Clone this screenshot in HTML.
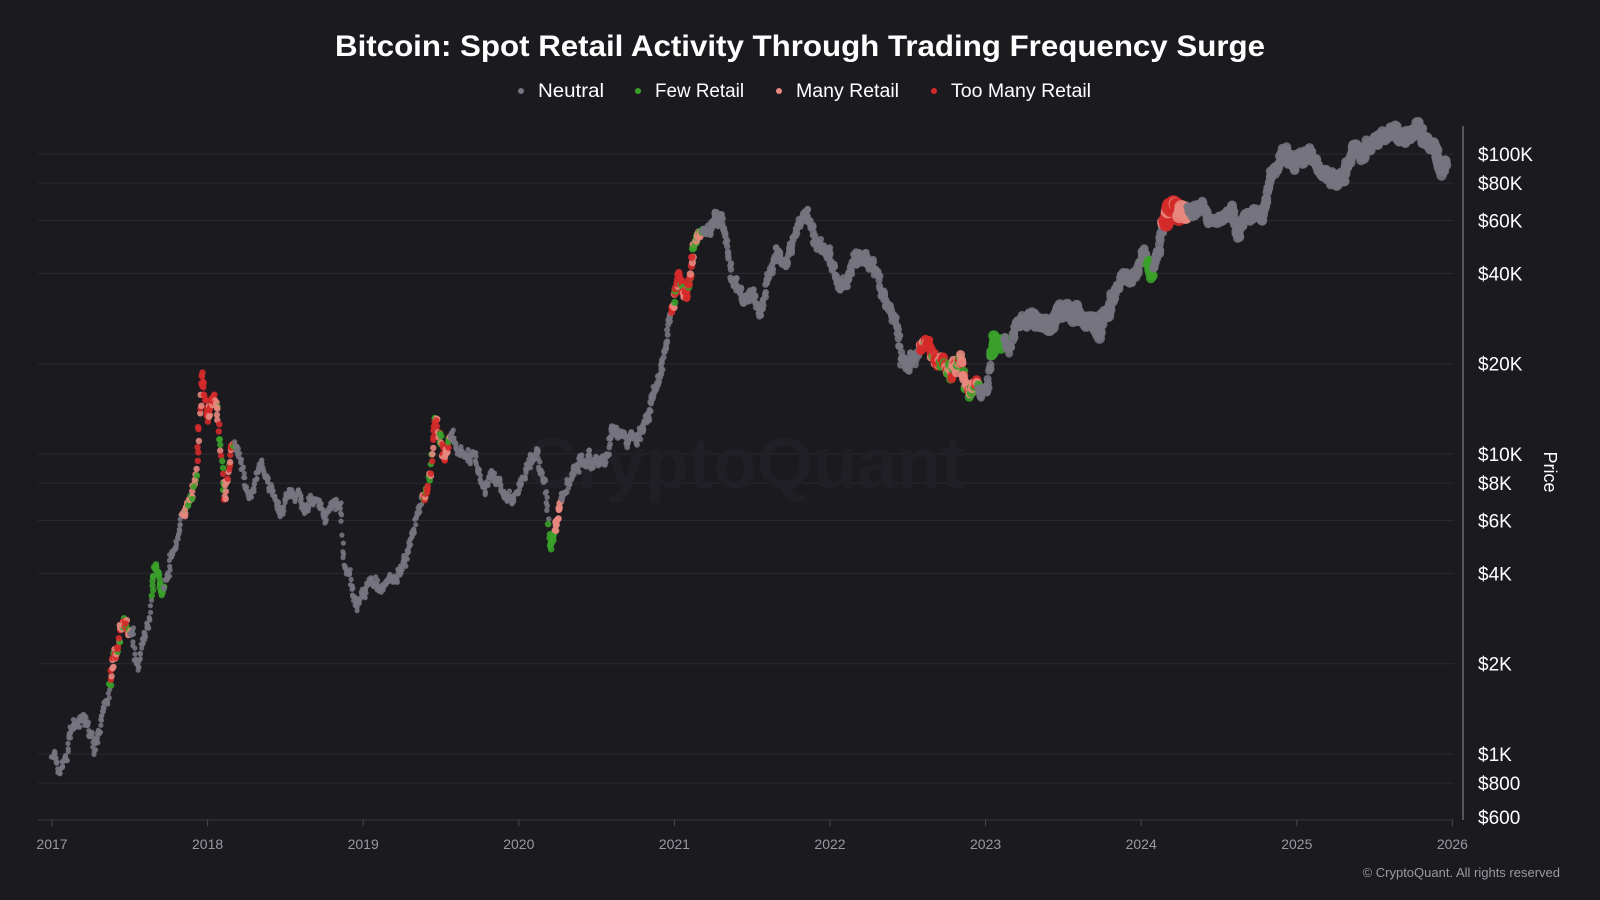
<!DOCTYPE html>
<html><head><meta charset="utf-8"><style>
html,body{margin:0;padding:0;background:#1b1a1f;}
svg{display:block;}
text{font-family:"Liberation Sans",sans-serif;}
</style></head><body>
<svg id="s" width="1600" height="900" viewBox="0 0 1600 900">
<rect width="1600" height="900" fill="#1b1a1f"/>
<text x="800" y="56" text-anchor="middle" fill="#ffffff" font-size="30" font-weight="bold" textLength="930" lengthAdjust="spacingAndGlyphs">Bitcoin: Spot Retail Activity Through Trading Frequency Surge</text>
<g font-size="19" fill="#ffffff">
<circle cx="521" cy="91" r="3" fill="#76747f"/><text x="538" y="97" textLength="66" lengthAdjust="spacingAndGlyphs">Neutral</text>
<circle cx="638" cy="91" r="3" fill="#3aa02a"/><text x="655" y="97" textLength="89" lengthAdjust="spacingAndGlyphs">Few Retail</text>
<circle cx="779" cy="91" r="3" fill="#e8877e"/><text x="796" y="97" textLength="103" lengthAdjust="spacingAndGlyphs">Many Retail</text>
<circle cx="934" cy="91" r="3" fill="#d42a2a"/><text x="951" y="97" textLength="140" lengthAdjust="spacingAndGlyphs">Too Many Retail</text>
</g>
<g id="grid"></g>
<text x="745" y="488" text-anchor="middle" fill="#201f25" font-size="72" font-weight="bold">CryptoQuant</text>
<g id="dots"></g>
<line x1="1463" y1="126" x2="1463" y2="820" stroke="#6a6970" stroke-width="1.5"/>
<line x1="38" y1="820" x2="1454" y2="820" stroke="#3a3940" stroke-width="1"/>
<g id="labels" font-size="19" fill="#ffffff"></g>
<g id="xl" font-size="14" fill="#9a99a2"></g>
<text transform="translate(1544,472) rotate(90)" text-anchor="middle" fill="#ffffff" font-size="18">Price</text>
<text x="1560" y="877" text-anchor="end" fill="#9a99a2" font-size="13">© CryptoQuant. All rights reserved</text>
</svg>
<script>
const NS="http://www.w3.org/2000/svg";
function el(t,a,p){const e=document.createElementNS(NS,t);for(const k in a)e.setAttribute(k,a[k]);p.appendChild(e);return e;}
const Y=p=>754-300*Math.log10(p/1000);
const X=t=>52+(t-2017)*155.6;
const grid=document.getElementById('grid'),labels=document.getElementById('labels'),xl=document.getElementById('xl');
[[100000,'$100K'],[80000,'$80K'],[60000,'$60K'],[40000,'$40K'],[20000,'$20K'],[10000,'$10K'],[8000,'$8K'],[6000,'$6K'],[4000,'$4K'],[2000,'$2K'],[1000,'$1K'],[800,'$800']].forEach(([p,l])=>{
 el('line',{x1:38,x2:1454,y1:Y(p),y2:Y(p),stroke:'#2a2930','stroke-width':1},grid);
 const t=el('text',{x:1478,y:Y(p)+7},labels);t.textContent=l;});
{const t=el('text',{x:1478,y:824},labels);t.textContent='$600';}
for(let y=2017;y<=2026;y++){el('line',{x1:X(y),x2:X(y),y1:820,y2:826,stroke:'#4a4950'},xl);const t=el('text',{x:X(y),y:849,'text-anchor':'middle'},xl);t.textContent=y;}
const A=[[2017.0,1000],[2017.05,790],[2017.12,1150],[2017.2,1300],[2017.27,1000],[2017.35,1500],[2017.42,2300],[2017.46,2800],[2017.52,2500],[2017.55,2000],[2017.62,2700],[2017.66,4300],[2017.7,3600],[2017.74,4000],[2017.8,5000],[2017.85,6000],[2017.9,7500],[2017.93,9000],[2017.965,19000],[2018.0,14000],[2018.04,16000],[2018.08,11000],[2018.11,7000],[2018.16,11000],[2018.22,9000],[2018.27,7000],[2018.33,9500],[2018.4,8000],[2018.47,6300],[2018.55,8000],[2018.62,6300],[2018.68,7000],[2018.8,6400],[2018.86,6300],[2018.88,4200],[2018.96,3300],[2019.05,3700],[2019.15,3600],[2019.25,4100],[2019.33,5500],[2019.42,8000],[2019.47,13000],[2019.52,10000],[2019.56,12000],[2019.62,10000],[2019.7,10000],[2019.78,7900],[2019.82,9400],[2019.9,7200],[2019.98,7200],[2020.05,9000],[2020.12,10200],[2020.17,8000],[2020.2,5000],[2020.28,7000],[2020.35,9000],[2020.45,9500],[2020.55,9300],[2020.6,11500],[2020.7,10800],[2020.8,11500],[2020.85,15500],[2020.92,19000],[2020.98,28000],[2021.03,38000],[2021.08,32000],[2021.12,48000],[2021.18,57000],[2021.22,55000],[2021.28,62000],[2021.33,55000],[2021.38,37000],[2021.45,34000],[2021.5,33000],[2021.55,30000],[2021.6,40000],[2021.66,48000],[2021.72,42000],[2021.78,55000],[2021.85,66000],[2021.93,48000],[2022.0,46000],[2022.06,36000],[2022.15,42000],[2022.24,46000],[2022.32,38000],[2022.37,29000],[2022.42,29000],[2022.46,20000],[2022.55,21000],[2022.62,24000],[2022.7,20000],[2022.78,19200],[2022.84,20500],[2022.87,16500],[2022.95,16800],[2023.0,16600],[2023.06,23000],[2023.15,23000],[2023.22,28000],[2023.3,29000],[2023.4,27000],[2023.5,30500],[2023.6,29000],[2023.7,26000],[2023.78,28000],[2023.83,35000],[2023.95,42000],[2024.04,43000],[2024.07,40000],[2024.12,52000],[2024.2,71000],[2024.3,63000],[2024.4,68000],[2024.5,58000],[2024.58,66000],[2024.62,55000],[2024.7,63000],[2024.78,68000],[2024.85,90000],[2024.93,100000],[2025.0,94000],[2025.08,102000],[2025.15,88000],[2025.25,82000],[2025.3,84000],[2025.35,100000],[2025.45,107000],[2025.55,118000],[2025.65,115000],[2025.72,112000],[2025.78,122000],[2025.8,115000],[2025.85,108000],[2025.88,100000],[2025.92,86000],[2025.96,91000]];
let seed=7;const rnd=()=>{seed=(seed*16807)%2147483647;return seed/2147483647;};
function price(t){for(let i=0;i<A.length-1;i++){if(t<=A[i+1][0]){const f=(t-A[i][0])/(A[i+1][0]-A[i][0]);return Math.exp(Math.log(A[i][1])*(1-f)+Math.log(A[i+1][1])*f);}}return A[A.length-1][1];}
function color(t){
 const r=rnd();
 const G='#3aa02a',P='#e8877e',R='#d42a2a',N='#76747f';
 if(t>=2017.37&&t<2017.5) return r<0.5?R:(r<0.85?P:G);
 if(t>=2017.64&&t<2017.72) return G;
 if(t>=2017.84&&t<2017.93) return r<0.3?G:P;
 if(t>=2017.93&&t<2018.05) return r<0.85?R:P;
 if(t>=2018.05&&t<2018.17) return r<0.5?P:(r<0.75?G:R);
 if(t>=2019.38&&t<2019.56) return r<0.45?R:(r<0.75?P:G);
 if(t>=2020.19&&t<2020.23) return G;
 if(t>=2020.23&&t<2020.27) return P;
 if(t>=2020.98&&t<2021.12) return r<0.6?R:(r<0.85?P:G);
 if(t>=2021.12&&t<2021.18) return r<0.5?G:P;
 if(t>=2022.58&&t<2022.75) return r<0.65?R:(r<0.9?P:G);
 if(t>=2022.75&&t<2022.95) return r<0.6?P:(r<0.8?G:R);
 if(t>=2023.04&&t<2023.12) return G;
 if(t>=2024.04&&t<2024.08) return G;
 if(t>=2024.15&&t<2024.25) return r<0.85?R:P;
 if(t>=2024.25&&t<2024.3) return P;
 return N;}
const dots=document.getElementById('dots');
let noise=0;
for(let t=2017.0;t<=2025.96;t+=1/365){
 noise=noise*0.85+(rnd()-0.5)*0.07;
 const p=price(t)*Math.exp(noise+(rnd()-0.5)*0.03);
 const c=color(t);
 let r=2.6+Math.max(0,t-2020)*0.45;
 if(c!=='#76747f') r+=0.6;
 if(t>=2024.15&&t<2024.28) r=7;
 if(t>=2023.04&&t<2023.12) r=5.5;
 if(t>=2023.3&&t<2023.8) r=5.5;
 el('circle',{cx:(X(t)+(rnd()-0.5)*2).toFixed(1),cy:Y(p).toFixed(1),r:r.toFixed(1),fill:c,'fill-opacity':0.9},dots);
}
</script>
</body></html>
